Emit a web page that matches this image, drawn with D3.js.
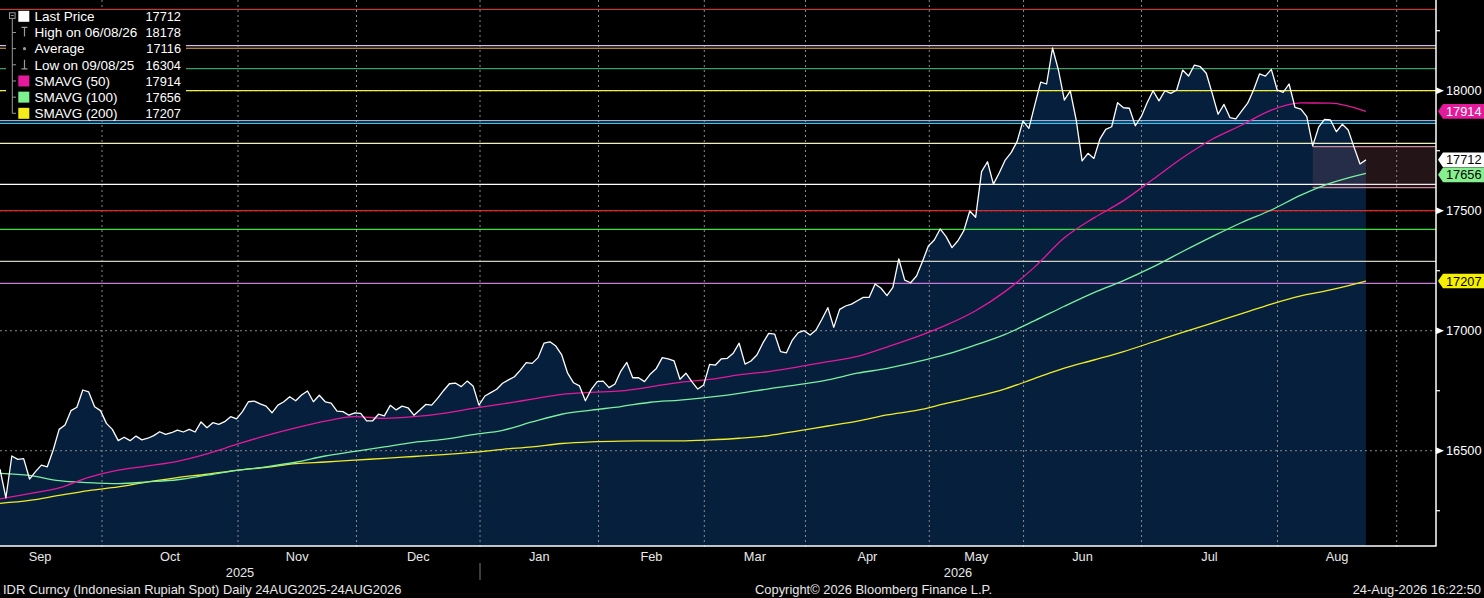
<!DOCTYPE html>
<html><head><meta charset="utf-8">
<script src="https://cdn.jsdelivr.net/npm/d3@7"></script>
<style>
html,body{margin:0;padding:0;background:#000;overflow:hidden;}
svg{display:block;font-family:"Liberation Sans",Arial,sans-serif;}
</style></head><body>
<svg id="chart" width="1484" height="598"></svg>
<script>
// ---- DATA (trading-day index based) ----
const price = [16423,16304,16478,16464,16467,16382,16413,16440,16433,16503,
16589,16607,16667,16681,16753,16745,16683,16667,16614,16589,
16542,16556,16542,16561,16545,16552,16563,16579,16568,16575,
16586,16578,16589,16578,16620,16596,16617,16610,16621,16642,
16633,16663,16704,16707,16695,16686,16658,16690,16704,16725,
16708,16732,16749,16704,16731,16704,16698,16665,16663,16648,
16658,16656,16624,16624,16652,16645,16689,16670,16686,16679,
16648,16670,16693,16690,16718,16750,16779,16782,16767,16790,
16770,16690,16728,16742,16756,16781,16795,16808,16836,16867,
16864,16888,16948,16954,16936,16899,16823,16783,16770,16708,
16756,16788,16790,16763,16778,16832,16868,16804,16804,16788,
16820,16843,16888,16883,16874,16798,16823,16788,16757,16774,
16860,16857,16883,16885,16906,16948,16861,16874,16899,16948,
16989,16986,16913,16908,16961,16992,17000,16982,17003,17048,
17096,17014,17089,17103,17111,17125,17139,17139,17195,17177,
17146,17181,17299,17211,17200,17228,17288,17353,17378,17424,
17392,17346,17375,17417,17499,17473,17663,17704,17611,17658,
17711,17742,17788,17874,17843,17941,18036,18028,18178,18086,
17961,17999,17878,17708,17739,17718,17798,17839,17850,17950,
17929,17927,17854,17892,17950,18000,17958,18000,17989,18003,
18086,18061,18107,18100,18073,17989,17902,17943,17888,17883,
17916,17948,18003,18070,18061,18089,18003,17993,18028,17931,
17923,17892,17770,17848,17881,17878,17829,17860,17836,17764,
17695,17712];

const smaDays = [0,5,10,15,20,25,30,35,40,45,50,55,60,65,70,75,80,85,90,95,100,105,110,115,120,125,130,135,140,145,150,155,160,165,170,175,180,185,190,195,200,205,210,215,220,225,231];
const sma50 = [16299,16321,16345,16389,16419,16437,16456,16487,16526,16563,16595,16623,16642,16635,16642,16656,16676,16695,16715,16735,16743,16749,16766,16785,16797,16816,16830,16849,16871,16893,16932,16974,17023,17083,17164,17266,17387,17470,17542,17631,17721,17798,17857,17919,17949,17948,17914];
const sma100 = [16406,16397,16375,16367,16363,16370,16379,16398,16418,16433,16452,16478,16497,16516,16535,16547,16567,16585,16620,16652,16669,16684,16702,16711,16723,16739,16758,16775,16795,16823,16843,16870,16901,16941,16985,17042,17102,17159,17209,17266,17330,17392,17451,17503,17565,17615,17656];
const sma200 = [16281,16293,16314,16334,16349,16370,16388,16402,16418,16431,16446,16453,16461,16468,16476,16484,16493,16506,16516,16530,16537,16540,16541,16541,16545,16552,16563,16583,16603,16623,16649,16668,16697,16725,16758,16801,16844,16878,16913,16953,16993,17032,17071,17111,17145,17170,17207];

const levelValues = [18339,18188,18177,18092,18000,17875,17864,17781,17610,17500,17422,17289,17197];
const levelColors = ["#b5403a","#d8b4f0","#e8b03c","#3f9f6a","#f2ef3a","#8fb4e0","#3cc4f0","#efefbd","#ffffff","#e02626","#3ee03e","#cfcfc0","#c77ad6"];

const boxDays = [222, 242.85];
const boxValues = [17596, 17767];

const monthNames = ["Sep","Oct","Nov","Dec","Jan","Feb","Mar","Apr","May","Jun","Jul","Aug"];
const monthBounds = [-3.7,17.25,40.25,60.29,81.18,101.22,119.11,136.22,157.16,173.1,193.05,216.05,236.2];
const yearNames = ["2025","2026"];
const yearBounds = [0,81.18,242.85];

const yMajor = [16500,17000,17500,18000];
const yMinor = [16250,16750,17250,17750,18250];

const legendLabels = ["Last Price","High on 06/08/26","Average","Low on 09/08/25","SMAVG (50)","SMAVG (100)","SMAVG (200)"];
const legendValues = ["17712","18178","17116","16304","17914","17656","17207"];

const footerLeft = "IDR Curncy (Indonesian Rupiah Spot) Daily 24AUG2025-24AUG2026";
const footerMid = "Copyright\u00A9 2026 Bloomberg Finance L.P.";
const footerRight = "24-Aug-2026 16:22:50";

// ---- STYLE ----
const C = {area:"#051f3d", price:"#ffffff", s50:"#e5199b", s100:"#7cf0a0", s200:"#f0ec28", grid:"#8a8a8a"};
const W = 1484, H = 598, plotR = 1436, plotB = 546;

const svg = d3.select("#chart");
svg.append("rect").attr("width",W).attr("height",H).attr("fill","#000");

const x = d3.scaleLinear().domain([0, 242.85]).range([0, plotR]);
const y = d3.scaleLinear().domain([16103, 18378]).range([plotB, 0]);

const plot = svg.append("g");
plot.append("path").datum(price)
  .attr("d", d3.area().x((d,i)=>x(i)).y0(plotB).y1(d=>y(d)))
  .attr("fill", C.area);

plot.selectAll(".vg").data(monthBounds.slice(1)).join("line")
  .attr("x1",d=>x(d)).attr("x2",d=>x(d)).attr("y1",0).attr("y2",plotB+4)
  .attr("stroke",C.grid).attr("stroke-dasharray","2,3").attr("stroke-width",1);
plot.selectAll(".hg").data(yMajor).join("line")
  .attr("x1",0).attr("x2",plotR).attr("y1",d=>y(d)).attr("y2",d=>y(d))
  .attr("stroke",C.grid).attr("stroke-dasharray","2,3").attr("stroke-width",1);

plot.selectAll(".lv").data(levelValues).join("line")
  .attr("x1",0).attr("x2",plotR).attr("y1",d=>y(d)).attr("y2",d=>y(d))
  .attr("stroke",(d,i)=>levelColors[i]).attr("stroke-width",1.2);

plot.append("rect").attr("x",x(boxDays[0])).attr("width",x(boxDays[1])-x(boxDays[0]))
  .attr("y",y(boxValues[1])).attr("height",y(boxValues[0])-y(boxValues[1]))
  .attr("fill","rgba(190,110,130,0.18)");
plot.selectAll(".bl").data(boxValues).join("line")
  .attr("x1",x(boxDays[0])).attr("x2",x(boxDays[1])).attr("y1",d=>y(d)).attr("y2",d=>y(d))
  .attr("stroke","#c88a9a").attr("stroke-width",1.2);

const smaLine = d3.line().x((d,i)=>x(smaDays[i])).y(d=>y(d)).curve(d3.curveMonotoneX);
[[sma200,C.s200],[sma100,C.s100],[sma50,C.s50]].forEach(([s,c])=>{
  plot.append("path").datum(s).attr("d",smaLine).attr("fill","none").attr("stroke",c).attr("stroke-width",1.3);
});
plot.append("path").datum(price)
  .attr("d", d3.line().x((d,i)=>x(i)).y(d=>y(d)))
  .attr("fill","none").attr("stroke",C.price).attr("stroke-width",1.3).attr("stroke-linejoin","round");

svg.append("line").attr("x1",0).attr("x2",plotR+0.5).attr("y1",plotB).attr("y2",plotB).attr("stroke","#fff").attr("stroke-width",1.5);
svg.append("line").attr("x1",plotR).attr("x2",plotR).attr("y1",0).attr("y2",plotB).attr("stroke","#fff").attr("stroke-width",1.5);

const ax = svg.append("g").attr("font-size","12.8px").attr("fill","#fff");
ax.selectAll(".mt").data(yMinor).join("line")
  .attr("x1",plotR).attr("x2",plotR+4).attr("y1",d=>y(d)).attr("y2",d=>y(d)).attr("stroke","#fff").attr("stroke-width",1.2);
ax.selectAll(".tri").data(yMajor).join("path")
  .attr("d",d=>`M${plotR},${y(d)-3.5}L${plotR+8},${y(d)}L${plotR},${y(d)+3.5}Z`).attr("fill","#fff");
ax.selectAll(".tl").data(yMajor).join("text")
  .attr("x",plotR+10).attr("y",d=>y(d)+4.5).text(d=>d);

const tags = [
  {v: sma50[sma50.length-1], fill: C.s50, text:"#fff"},
  {v: price[price.length-1], fill: "#fff", text:"#000"},
  {v: sma100[sma100.length-1], fill: "#86f08e", text:"#000"},
  {v: sma200[sma200.length-1], fill: "#f5f000", text:"#000"}
];
tags.forEach(t=>t.py = y(t.v));
tags.sort((a,b)=>a.py-b.py);
for(let i=1;i<tags.length;i++){ if(tags[i].py < tags[i-1].py+15) tags[i].py = tags[i-1].py+15; }
const tg = svg.append("g").attr("font-size","12.8px");
tags.forEach(t=>{
  const yy=t.py, h=7.3;
  tg.append("path").attr("d",`M${plotR+2},${yy}L${plotR+7},${yy-h}L${W},${yy-h}L${W},${yy+h}L${plotR+7},${yy+h}Z`)
    .attr("fill",t.fill);
  tg.append("text").attr("x",plotR+10).attr("y",yy+4.5).attr("fill",t.text).text(t.v);
});

const xl = svg.append("g").attr("font-size","12.8px").attr("fill","#e8e8e8").attr("text-anchor","middle");
xl.selectAll(".ml").data(monthNames).join("text")
  .attr("x",(d,i)=>x((monthBounds[i]+monthBounds[i+1])/2)).attr("y",561).text(d=>d);
xl.selectAll(".yl").data(yearNames).join("text")
  .attr("x",(d,i)=>x((yearBounds[i]+yearBounds[i+1])/2)).attr("y",577).text(d=>d);
svg.append("line").attr("x1",x(yearBounds[1])).attr("x2",x(yearBounds[1])).attr("y1",563).attr("y2",580).attr("stroke","#777");

const ft = svg.append("g").attr("font-size","12.9px").attr("fill","#e8e8e8");
ft.append("text").attr("x",3).attr("y",594).text(footerLeft);
ft.append("text").attr("x",755).attr("y",594).text(footerMid);
ft.append("text").attr("x",1481).attr("y",594).attr("text-anchor","end").text(footerRight);

const lg = svg.append("g");
lg.append("rect").attr("x",6).attr("y",10).attr("width",180).attr("height",109).attr("fill","#000");
const rowY = i => 16.3 + i*16.17;
const gray = "#999";
lg.append("rect").attr("x",9.5).attr("y",12.8).attr("width",5.6).attr("height",5.6).attr("fill","none").attr("stroke",gray).attr("stroke-width",1);
lg.append("line").attr("x1",10.8).attr("x2",13.8).attr("y1",15.6).attr("y2",15.6).attr("stroke",gray);
lg.append("line").attr("x1",12.3).attr("x2",12.3).attr("y1",18.6).attr("y2",rowY(6)).attr("stroke",gray);
lg.selectAll(".stub").data(d3.range(1,7)).join("line")
  .attr("x1",12.3).attr("x2",16).attr("y1",d=>rowY(d)).attr("y2",d=>rowY(d)).attr("stroke",gray);
const swatchColors = {0:"#fff",4:C.s50,5:"#7df08f",6:"#f5ec1a"};
Object.keys(swatchColors).forEach(k=>{
  lg.append("rect").attr("x",18.3).attr("y",rowY(+k)-5.5).attr("width",11).attr("height",11).attr("fill",swatchColors[k]);
});
lg.append("path").attr("d",`M21.5,${rowY(1)-5}H27.5M24.5,${rowY(1)-5}V${rowY(1)+4}`).attr("stroke",gray).attr("fill","none").attr("stroke-width",1.2);
lg.append("circle").attr("cx",24.5).attr("cy",rowY(2)).attr("r",1.6).attr("fill",gray);
lg.append("path").attr("d",`M21.5,${rowY(3)+4}H27.5M24.5,${rowY(3)+4}V${rowY(3)-5}`).attr("stroke",gray).attr("fill","none").attr("stroke-width",1.2);
lg.selectAll(".lt").data(legendLabels).join("text")
  .attr("x",34.5).attr("y",(d,i)=>rowY(i)+4.7).attr("font-size","13.5px").attr("fill","#fff").text(d=>d);
lg.selectAll(".lvv").data(legendValues).join("text")
  .attr("x",181).attr("y",(d,i)=>rowY(i)+4.7).attr("font-size","12.8px").attr("fill","#fff").attr("text-anchor","end").text(d=>d);
</script>
</body></html>
